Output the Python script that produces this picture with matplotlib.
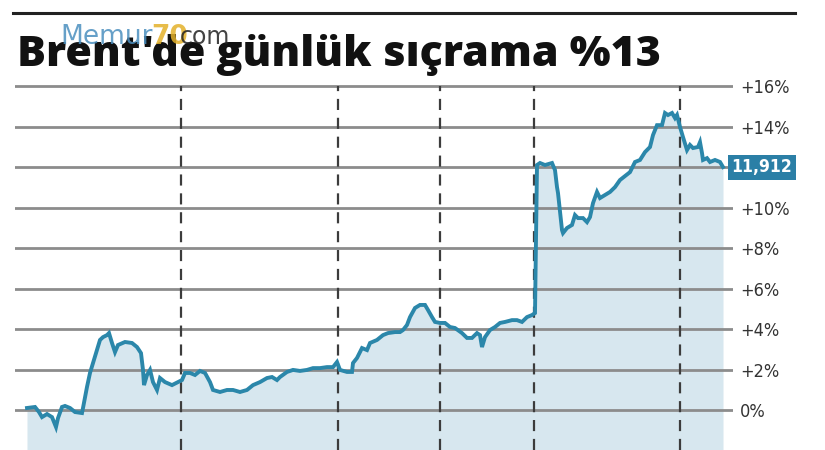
import matplotlib
matplotlib.use("Agg")
import matplotlib.pyplot as plt
from matplotlib import font_manager
from matplotlib.lines import Line2D

# Brent daily change (%), time position
t = [0, 8, 12, 15, 20, 25, 29, 31, 35, 38, 43, 48, 55, 56, 60, 63, 66, 70, 73, 76,
     80, 82, 85, 88, 91, 98, 105, 110, 114, 116, 117, 120, 123, 126, 130, 133, 138, 145, 151, 155,
     158, 163, 168, 173, 178, 183, 186, 193, 200, 206, 213, 220, 226, 233, 240, 245, 250, 253, 260, 266,
     273, 280, 286, 293, 300, 306, 310, 313, 320, 325, 326, 330, 335, 340, 343, 350, 356, 361, 368, 373,
     376, 380, 383, 388, 393, 398, 401, 405, 408, 413, 418, 423, 428, 435, 440, 445, 450, 453, 455, 458,
     463, 468, 473, 478, 485, 490, 495, 500, 505, 508, 510, 513, 518, 525, 528, 530, 531, 533, 535, 536,
     540, 545, 548, 551, 556, 560, 563, 566, 570, 573, 578, 583, 588, 593, 603, 608, 613, 618, 623, 626,
     630, 635, 638, 641, 645, 648, 650, 653, 656, 660, 663, 666, 671, 673, 675, 676, 680, 683, 688, 693,
     696]
change = [0.10, 0.15, -0.10, -0.35, -0.20, -0.35, -0.84, -0.40, 0.15, 0.20, 0.10, -0.10, -0.15, 0.10, 1.14, 1.83, 2.32, 2.96, 3.46, 3.60,
          3.70, 3.80, 3.31, 2.86, 3.21, 3.36, 3.31, 3.11, 2.81, 1.98, 1.23, 1.73, 1.98, 1.38, 0.99, 1.58, 1.38, 1.23, 1.38, 1.48,
          1.83, 1.83, 1.73, 1.93, 1.83, 1.38, 0.99, 0.89, 0.99, 0.99, 0.89, 0.99, 1.23, 1.38, 1.58, 1.63, 1.48, 1.63, 1.88, 1.98,
          1.93, 1.98, 2.07, 2.07, 2.12, 2.12, 2.37, 1.98, 1.88, 1.88, 2.32, 2.57, 3.06, 2.96, 3.31, 3.46, 3.70, 3.80, 3.85, 3.85,
          3.95, 4.20, 4.59, 5.04, 5.19, 5.19, 4.94, 4.59, 4.35, 4.30, 4.30, 4.10, 4.05, 3.80, 3.56, 3.56, 3.80, 3.70, 3.11, 3.60,
          3.95, 4.10, 4.30, 4.35, 4.44, 4.44, 4.35, 4.59, 4.69, 4.79, 12.10, 12.20, 12.10, 12.20, 11.85, 11.01, 10.72, 9.78, 8.89, 8.74,
          8.99, 9.14, 9.63, 9.48, 9.48, 9.28, 9.53, 10.22, 10.77, 10.47, 10.62, 10.77, 11.01, 11.36, 11.75, 12.25, 12.35, 12.74, 12.99, 13.58,
          14.07, 14.07, 14.67, 14.57, 14.67, 14.42, 14.57, 13.98, 13.48, 12.84, 13.09, 12.94, 12.99, 13.23, 12.69, 12.35, 12.44, 12.25, 12.35, 12.25,
          12.00]

events = [154, 311, 413, 507, 653]
grid_levels = [0, 2, 4, 6, 8, 10, 12, 14, 16]
tick_levels = [0, 2, 4, 6, 8, 10, 14, 16]
tick_labels = ["0%", "+2%", "+4%", "+6%", "+8%", "+10%", "+14%", "+16%"]
last_label = "11,912"
title = "Brent'de günlük sıçrama %13"

line_color = "#2b87aa"
fill_color = "#d7e7ef"

# narrow font for the numbers, if one is installed
names = {f.name for f in font_manager.fontManager.ttflist}
narrow = "Liberation Sans Narrow" if "Liberation Sans Narrow" in names else "DejaVu Sans"

fig = plt.figure(figsize=(8.25, 4.5), dpi=100)
ax = fig.add_axes([15 / 825, 0, 718 / 825, 370 / 450])
ax.set_xlim(-12, 706)
ax.set_ylim(-1.975, 16.30)

ax.fill_between(t, change, -1.975, color=fill_color, lw=0, zorder=1)
for g in grid_levels:
    ax.axhline(g, color="#8c8c8c", lw=2, zorder=2)
for e in events:
    ax.plot([e, e], [-1.975, 16], color="#3c3c3c", lw=1.6, ls=(0, (5, 3.5)), zorder=3)
ax.plot(t, change, color=line_color, lw=2.8, zorder=4, solid_joinstyle="miter")

for s in ax.spines.values():
    s.set_visible(False)
ax.set_xticks([])
ax.yaxis.tick_right()
ax.set_yticks(tick_levels)
ax.set_yticklabels(tick_labels, family=narrow, stretch="condensed", fontsize=13, color="#333333")
ax.tick_params(axis="y", length=0, pad=5)

ax.annotate(last_label, xy=(1.0, change[-1]), xycoords=("axes fraction", "data"),
            xytext=(-1, 0), textcoords="offset points", va="center", ha="left",
            family=narrow, stretch="condensed", fontsize=12.5, fontweight="bold", color="white",
            bbox=dict(boxstyle="square,pad=0.2", fc="#2b7fa6", ec="none"))

fig.add_artist(Line2D([13 / 825, 795 / 825], [1 - 13 / 450, 1 - 13 / 450], color="#222222", lw=2.2))
fig.text(17 / 825, 1 - 66 / 450, title, fontsize=31, fontweight="heavy", family="Open Sans",
         color="#111111", va="baseline", ha="left")

# watermark
fig.text(60 / 825, 1 - 44 / 450, "Memur", fontsize=19, color="#4b8fbf", alpha=0.85, va="baseline")
fig.text(151 / 825, 1 - 44 / 450, "70", fontsize=19, fontweight="bold", color="#e3b12a", alpha=0.85, va="baseline")
fig.text(180 / 825, 1 - 44 / 450, "com", fontsize=17, color="#222222", alpha=0.85, va="baseline")

fig.savefig("out.png", dpi=100)
